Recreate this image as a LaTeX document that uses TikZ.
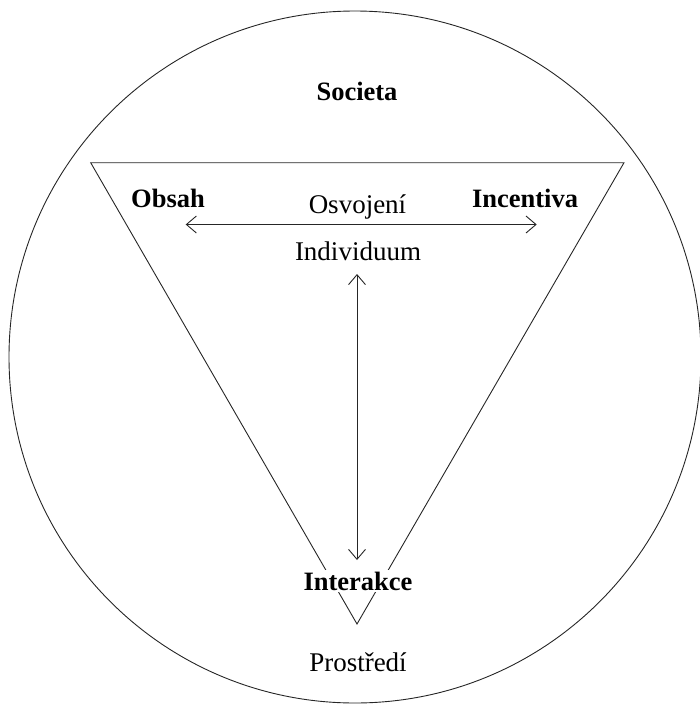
\documentclass[tikz,border=0pt]{standalone}
\usepackage{fontspec}
\setmainfont{Liberation Serif}
\usetikzlibrary{arrows.meta}
\begin{document}
\begin{tikzpicture}[x=1pt,y=-1pt,
  outline/.style={line width=0.9pt, draw=black!85},
  link/.style={line width=0.9pt, draw=black!85,
    {Straight Barb[length=10pt,width=17pt]}-{Straight Barb[length=10pt,width=17pt]}},
  key/.style={font=\fontsize{26.5}{28}\selectfont\bfseries, inner sep=0pt, anchor=base},
  plain/.style={font=\fontsize{27}{29}\selectfont, inner sep=0pt, anchor=base}]
  \useasboundingbox (0,0) rectangle (700,705);

  % outer circle and inner triangle
  \draw[outline] (355,357) circle[radius=346];
  \draw[outline] (90.7,162.7) -- (624,162.7) -- (357,624) -- cycle;

  % labels
  \node[key]   (soc) at (357,100) {Societa};
  \node[key]   (obs) at (168,207) {Obsah};
  \node[plain] (osv) at (357.5,213.5) {Osvojení};
  \node[key]   (inc) at (525,207) {Incentiva};
  \node[plain] (ind) at (358,260.5) {Individuum};
  \node[key, fill=white, inner sep=2pt] (int) at (358,590) {Interakce};
  \node[plain] (pro) at (358,671) {Prostředí};

  % arrow end points
  \coordinate (hl) at (185.7,224.5);
  \coordinate (hr) at (536.7,224.5);
  \coordinate (vt) at (357,274);
  \coordinate (vb) at (357,560);

  \draw[link] (hl) -- (hr);
  \draw[link] (vt) -- (vb);
\end{tikzpicture}
\end{document}
